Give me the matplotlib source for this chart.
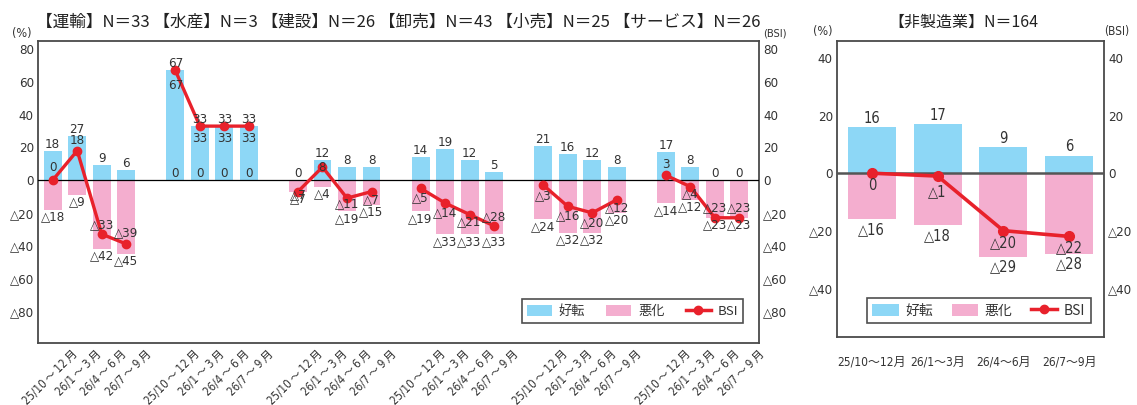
import numpy as np
import matplotlib
matplotlib.use('Agg')
import matplotlib.pyplot as plt
from matplotlib import font_manager
from matplotlib.font_manager import FontProperties, findfont
from matplotlib.transforms import ScaledTranslation, blended_transform_factory
from matplotlib.lines import Line2D
from matplotlib.patches import Patch

periods = ['25/10～12月', '26/1～3月', '26/4～6月', '26/7～9月']
sectors = ['運輸', '水産', '建設', '卸売', '小売', 'サービス']
sector_n = [33, 3, 26, 43, 25, 26]

# 好転 / 悪化 / BSI by sector, one row per sector
good = [[18, 27, 9, 6], [67, 33, 33, 33], [0, 12, 8, 8],
        [14, 19, 12, 5], [21, 16, 12, 8], [17, 8, 0, 0]]
bad = [[-18, -9, -42, -45], [0, 0, 0, 0], [-7, -4, -19, -15],
       [-19, -33, -33, -33], [-24, -32, -32, -20], [-14, -12, -23, -23]]
bsi = [[0, 18, -33, -39], [67, 33, 33, 33], [-7, 8, -11, -7],
       [-5, -14, -21, -28], [-3, -16, -20, -12], [3, -4, -23, -23]]

# 非製造業 total
nm_n = 164
nm_good = [16, 17, 9, 6]
nm_bad = [-16, -18, -29, -28]
nm_bsi = [0, -1, -20, -22]

# BSI label nudges (points, + is up) so labels don't sit on the line
bsi_dy = [[9, 7, 7, 8], [-11, -9, -9, -9], [-2, 0, -4, -6],
          [-7, -7, -5, 7], [-8, -7, -7, -6], [8, -5, 7, 7]]
nm_bsi_dy = [-9, -11, -9, -8]

C_GOOD = '#8dd7f6'
C_BAD = '#f4aecf'
C_BSI = '#e8212b'
C_TXT = '#333333'
C_FRAME = '#4a4a4a'

# narrow face for the numbers if one is around
names = {f.name for f in font_manager.fontManager.ttflist}
if 'Liberation Sans Narrow' in names:
    NUM_FONT = ['Liberation Sans Narrow', 'DejaVu Sans', 'Noto Sans CJK JP']
else:
    NUM_FONT = ['DejaVu Sans', 'Noto Sans CJK JP']
    if 'Condensed' in findfont(FontProperties(family='DejaVu Sans', stretch='condensed')):
        plt.rcParams['font.stretch'] = 'condensed'
JP_FONT = ['Noto Sans CJK JP', 'DejaVu Sans']
plt.rcParams['font.family'] = NUM_FONT


def fmt(v):
    return '△%d' % -v if v < 0 else '%d' % v


def style_axes(ax, ylim, ticks):
    ax.set_ylim(*ylim)
    ax.set_yticks(ticks)
    ax.set_yticklabels([fmt(t) for t in ticks])
    ax.tick_params(axis='y', length=0, labelsize=9.5, colors=C_TXT,
                   labelleft=True, labelright=True, pad=3)
    ax.tick_params(axis='x', length=0, colors=C_TXT)
    for s in ax.spines.values():
        s.set_color(C_FRAME)
        s.set_linewidth(1.3)


def add_legend(ax, anchor, fs, colsp):
    handles = [Patch(facecolor=C_GOOD, edgecolor='none'),
               Patch(facecolor=C_BAD, edgecolor='none'),
               Line2D([], [], color=C_BSI, lw=2.5, marker='o', ms=6)]
    leg = ax.legend(handles, ['好転', '悪化', 'BSI'], ncol=3, loc='lower right',
                    bbox_to_anchor=anchor, borderaxespad=0, frameon=True, fancybox=False,
                    handlelength=1.9, handleheight=0.9, handletextpad=0.5,
                    columnspacing=colsp, borderpad=0.4, prop={'family': JP_FONT, 'size': fs})
    leg.get_frame().set_edgecolor('#222222')
    leg.get_frame().set_linewidth(1.2)
    for t in leg.get_texts():
        t.set_color(C_TXT)


fig = plt.figure(figsize=(11.37, 4.05), dpi=100)

# ---- left panel: six sectors ----
ax = fig.add_axes([38 / 1137, 1 - 343 / 405, 721 / 1137, 302 / 405])
w = 0.73
for g in range(len(sectors)):
    x = np.arange(4) + g * 5
    ax.bar(x, good[g], width=w, color=C_GOOD, zorder=2)
    ax.bar(x, bad[g], width=w, color=C_BAD, zorder=2)
    ax.plot(x, bsi[g], color=C_BSI, lw=2.4, marker='o', ms=6, zorder=4)
    for i in range(4):
        for v in (good[g][i], bad[g][i]):
            ax.annotate(fmt(v), (x[i], v), xytext=(0, 4.8 if v >= 0 else -5.2),
                        textcoords='offset points', ha='center', va='center',
                        fontsize=9.5, color=C_TXT, zorder=5)
        ax.annotate(fmt(bsi[g][i]), (x[i], bsi[g][i]), xytext=(0, bsi_dy[g][i]),
                    textcoords='offset points', ha='center', va='center',
                    fontsize=9.5, color=C_TXT, zorder=5)
ax.axhline(0, color='black', lw=0.9, zorder=3)
ax.set_xlim(-0.6, 28.8)
style_axes(ax, (-99.5, 85), [80, 60, 40, 20, 0, -20, -40, -60, -80])
ax.set_xticks([])

# slanted period labels, hung from just right of each bar
lab_tr = blended_transform_factory(ax.transData, ax.transAxes) + \
    ScaledTranslation(0.225, -0.085, fig.dpi_scale_trans)
for g in range(len(sectors)):
    for i, p in enumerate(periods):
        ax.text(g * 5 + i, 0, p.replace('～', '\u2009～\u2009').replace('月', '\u2009月'),
                transform=lab_tr, rotation=45, rotation_mode='anchor',
                ha='right', va='center', fontsize=8.3, color=C_TXT)
add_legend(ax, (0.978, 0.066), 9.5, 1.6)

title = ' '.join('【%s】N＝%d' % (s, n) for s, n in zip(sectors, sector_n))
fig.text(398 / 1137, 1 - 22 / 405, title, ha='center', va='center',
         fontsize=12, family=JP_FONT, color='#222222')
fig.text(22 / 1137, 1 - 33 / 405, '(%)', ha='center', va='center', fontsize=9, color=C_TXT)
fig.text(775 / 1137, 1 - 33 / 405, '(BSI)', ha='center', va='center', fontsize=8, color=C_TXT)

# ---- right panel: 非製造業 ----
ax2 = fig.add_axes([837 / 1137, 1 - 337 / 405, 267 / 1137, 296 / 405])
x = np.arange(4)
ax2.bar(x, nm_good, width=w, color=C_GOOD, zorder=2)
ax2.bar(x, nm_bad, width=w, color=C_BAD, zorder=2)
ax2.axhline(0, color='#555555', lw=1.8, zorder=3)
ax2.plot(x, nm_bsi, color=C_BSI, lw=2.6, marker='o', ms=7, zorder=4)
for i in range(4):
    for v in (nm_good[i], nm_bad[i]):
        ax2.annotate(fmt(v), (x[i], v), xytext=(0, 6.5 if v >= 0 else -7.5),
                     textcoords='offset points', ha='center', va='center',
                     fontsize=10.5, color=C_TXT, zorder=5)
    ax2.annotate(fmt(nm_bsi[i]), (x[i], nm_bsi[i]), xytext=(0, nm_bsi_dy[i]),
                 textcoords='offset points', ha='center', va='center',
                 fontsize=10.5, color=C_TXT, zorder=5)
ax2.set_xlim(-0.53, 3.53)
style_axes(ax2, (-57, 46), [40, 20, 0, -20, -40])
ax2.set_xticks(x)
ax2.set_xticklabels(periods, fontsize=8.6)
ax2.tick_params(axis='x', pad=13)
add_legend(ax2, (0.951, 0.047), 10, 1.3)

fig.text(963 / 1137, 1 - 22 / 405, '【非製造業】N＝%d' % nm_n, ha='center', va='center',
         fontsize=11.5, family=JP_FONT, color='#222222')
fig.text(823 / 1137, 1 - 32 / 405, '(%)', ha='center', va='center', fontsize=9, color=C_TXT)
fig.text(1117 / 1137, 1 - 32 / 405, '(BSI)', ha='center', va='center', fontsize=8.5, color=C_TXT)

fig.savefig('out.png', dpi=100)
